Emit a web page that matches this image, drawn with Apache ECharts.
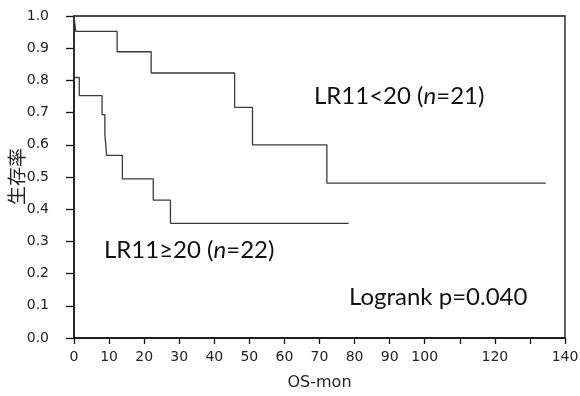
<!DOCTYPE html>
<html><head><meta charset="utf-8">
<script src="https://cdn.jsdelivr.net/npm/echarts@6/dist/echarts.min.js"></script>
<style>html,body{margin:0;padding:0;background:#fff}#c{width:580px;height:396px}</style>
</head><body><div id="c"></div>
<script>
const upperTimes = [0, 0.5, 12.3, 22.0, 45.8, 50.9, 72.1, 134.5];
const upperSurv  = [1, 0.952, 0.889, 0.823, 0.716, 0.600, 0.481, 0.481];
const lowerTimes = [0, 0, 1.5, 8.0, 8.8, 9.3, 13.8, 22.6, 27.5, 78.3];
const lowerSurv  = [1, 0.809, 0.753, 0.694, 0.632, 0.567, 0.494, 0.428, 0.356, 0.356];
const xTickLabels = ['0','10','20','30','40','50','60','70','80','90','100','','120','','140'];
const yTickLabels = ['0.0','0.1','0.2','0.3','0.4','0.5','0.6','0.7','0.8','0.9','1.0'];

const zip = (a, b) => a.map((v, i) => [v, b[i]]);
const tickFont = {fontFamily: 'DejaVu Sans', fontSize: 14, color: '#222'};
const chart = echarts.init(document.getElementById('c'));
chart.setOption({
  animation: false,
  backgroundColor: '#fff',
  grid: {left: 74, right: 15, top: 16, bottom: 58, containLabel: false, outerBoundsMode: 'none',
         show: true, borderColor: '#111', borderWidth: 1.3},
  xAxis: {
    type: 'value', min: 0, max: 140, interval: 10,
    name: 'OS-mon', nameLocation: 'middle', nameGap: 37,
    nameTextStyle: {fontFamily: 'DejaVu Sans', fontSize: 16, color: '#222'},
    axisLine: {lineStyle: {color: '#111', width: 1.5}},
    axisTick: {length: 6, lineStyle: {color: '#111', width: 1.3}},
    axisLabel: Object.assign({margin: 12, formatter: (v) => xTickLabels[Math.round(v / 10)] || ''}, tickFont),
    splitLine: {show: false}
  },
  yAxis: {
    type: 'value', min: 0, max: 1, interval: 0.1,
    axisLine: {lineStyle: {color: '#111', width: 1.5}},
    axisTick: {length: 8, lineStyle: {color: '#111', width: 1.3}},
    axisLabel: Object.assign({margin: 25, formatter: (v) => yTickLabels[Math.round(v * 10)]}, tickFont),
    splitLine: {show: false}
  },
  series: [
    {type: 'line', step: 'end', data: zip(upperTimes, upperSurv), showSymbol: false,
     lineStyle: {color: '#3a3a3a', width: 1.3}},
    {type: 'line', step: 'end', data: zip(lowerTimes, lowerSurv), showSymbol: false,
     lineStyle: {color: '#3a3a3a', width: 1.3}}
  ],
  graphic: [
    {type: 'text', left: 7, top: 148, rotation: Math.PI / 2,
     style: {text: '生存率', font: '19px "Noto Sans CJK JP"', fill: '#222'}},
    {type: 'text', left: 314, top: 84, style: {
      text: '{a|LR11<20 (}{i|n}{a|=21)}',
      rich: {a: {font: '24px Lato', fill: '#111'}, i: {font: 'italic 24px Lato', fill: '#111'}}}},
    {type: 'text', left: 104, top: 238, style: {
      text: '{a|LR11≥20 (}{i|n}{a|=22)}',
      rich: {a: {font: '24px Lato', fill: '#111'}, i: {font: 'italic 24px Lato', fill: '#111'}}}},
    {type: 'text', left: 349, top: 285, style: {text: 'Logrank p=0.040', font: '24px Lato', fill: '#111'}}
  ]
});
</script></body></html>
